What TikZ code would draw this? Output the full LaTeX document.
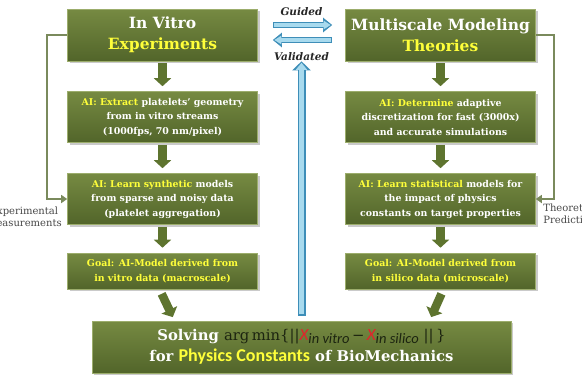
\documentclass[tikz,border=0pt]{standalone}
\usepackage{fontspec}
\setmainfont{DejaVu Serif}
\newfontfamily\calibfont{Carlito}
\usepackage{tikz}
\usetikzlibrary{positioning,arrows.meta,calc,shadows}

\definecolor{boxtop}{HTML}{768A42}
\definecolor{boxbot}{HTML}{52652A}
\definecolor{boxedge}{HTML}{9CAD6C}
\definecolor{hilite}{HTML}{FFFF3A}
\definecolor{gstepc}{HTML}{5E742F}
\definecolor{fbline}{HTML}{7A8A5C}
\definecolor{bluefill}{HTML}{A8DAEE}
\definecolor{blueedge}{HTML}{3E8EB8}
\definecolor{mathdark}{HTML}{1C2410}
\definecolor{xred}{HTML}{E3222B}

\newcommand{\hl}[1]{\textcolor{hilite}{#1}}
\newcommand{\subtxt}[1]{\raisebox{-2.5pt}{\calibfont\itshape\mdseries\fontsize{14.5}{14.5}\selectfont #1}}
\newcommand{\redx}{{\calibfont\itshape\mdseries\fontsize{17}{17}\selectfont\color{xred}X}}

\begin{document}
\begin{tikzpicture}[
  x=1pt, y=1pt,
  node distance=82pt and 278pt, % 竖直和水平方向的距离
  on grid,
  align=center,
  >={Stealth},
  box/.style={draw=boxedge, line width=0.6pt, top color=boxtop, bottom color=boxbot,
    minimum width=190pt, inner sep=2pt, text=white,
    drop shadow={fill=black!60, opacity=0.35, shadow xshift=2pt, shadow yshift=-2pt}},
  titlebox/.style={box, minimum height=52pt, font=\bfseries\fontsize{15.5}{21}\selectfont},
  aibox/.style={box, minimum height=51pt, font=\bfseries\fontsize{9.4}{14.5}\selectfont},
  goalbox/.style={box, minimum height=36pt, text=hilite, font=\bfseries\fontsize{9.4}{14.5}\selectfont},
  gstep/.style={draw=gstepc, line width=8.5pt, -{Triangle[width=17pt,length=8pt]},
    shorten <=2pt, shorten >=5pt},
  fback/.style={draw=fbline, line width=2pt, -{Triangle[width=8pt,length=6pt]}},
  blueout/.style={draw=blueedge, line width=#1, -{Triangle[width=2*#1+2pt,length=9pt]}},
  bluein/.style={draw=bluefill, line width=#1, -{Triangle[width=2*#1+1pt,length=7pt]}},
  side/.style={font=\fontsize{10}{12.5}\selectfont, text=black!72},
  tag/.style={font=\bfseries\itshape\fontsize{10.5}{12}\selectfont, text=black!85}
]
\useasboundingbox (0,0) rectangle (582,-376);

% 左列
\node (L1) [titlebox] at (162.5,-35) {In Vitro\\\hl{Experiments}};
\node (L2) [aibox, below=of L1] {\hl{AI: Extract} platelets’ geometry\\from in vitro streams\\(1000fps, 70 nm/pixel)};
\node (L3) [aibox, below=of L2] {\hl{AI: Learn synthetic} models\\from sparse and noisy data\\(platelet aggregation)};
\node (L4) [goalbox, below=72pt of L3] {Goal: AI-Model derived from\\in vitro data (macroscale)};

% 右列
\node (R1) [titlebox, right=of L1] {Multiscale Modeling\\\hl{Theories}};
\node (R2) [aibox, below=of R1] {\hl{AI: Determine} adaptive\\discretization for fast (3000x)\\and accurate simulations};
\node (R3) [aibox, below=of R2] {\hl{AI: Learn statistical} models for\\the impact of physics\\constants on target properties};
\node (R4) [goalbox, below=72pt of R3] {Goal: AI-Model derived from\\in silico data (microscale)};

% 底部
\node (solve) [box, minimum width=419pt, minimum height=52pt, font=\bfseries\fontsize{14.8}{21}\selectfont]
  at ($(L4)!0.5!(R4)+(0,-76)$)
  {Solving {\mdseries\color{mathdark}arg\,min\{||}\redx{\color{mathdark}\subtxt{in vitro}\,{\mdseries −}\,}\redx{\color{mathdark}\subtxt{in silico}\,{\mdseries\,||\,\}}}\\
  for \hl{\calibfont\fontsize{18}{21}\selectfont Physics Constants} of BioMechanics};

% 中间
\coordinate (vtop) at ($(L1.south)!0.5!(R1.south)$);
\node (guided) [tag] at ($(vtop)+(0,50)$) {Guided};
\node (validated) [tag] at ($(vtop)+(0,5)$) {Validated};

% 绿色箭头
\draw[gstep] (L1) -- (L2);
\draw[gstep] (L2) -- (L3);
\draw[gstep] (L3) -- (L4);
\draw[gstep] (R1) -- (R2);
\draw[gstep] (R2) -- (R3);
\draw[gstep] (R3) -- (R4);
\draw[gstep, shorten <=5pt, shorten >=4pt] ([xshift=-3pt]L4.south) -- ([xshift=-127pt]solve.north);
\draw[gstep, shorten <=5pt, shorten >=4pt] ([xshift=3pt]R4.south) -- ([xshift=128pt]solve.north);

% 蓝色箭头
\draw[blueout=8pt, shorten <=5pt] (solve.north) -- (vtop);
\draw[bluein=5pt, shorten <=6.5pt, shorten >=1.5pt] (solve.north) -- (vtop);
\draw[blueout=6pt, shorten <=15pt, shorten >=13pt] ([yshift=10pt]L1.east) -- ([yshift=10pt]R1.west);
\draw[bluein=3.6pt, shorten <=16pt, shorten >=14.5pt] ([yshift=10pt]L1.east) -- ([yshift=10pt]R1.west);
\draw[blueout=6pt, shorten <=13pt, shorten >=15pt] ([yshift=-5pt]R1.west) -- ([yshift=-5pt]L1.east);
\draw[bluein=3.6pt, shorten <=14pt, shorten >=16.5pt] ([yshift=-5pt]R1.west) -- ([yshift=-5pt]L1.east);

% 反馈
\draw[fback] (L1.west) -- ++(-20,0) |- (L3.west);
\draw[fback] (R1.east) -- ++(18,0) |- (R3.east);
\node (expm) [side, anchor=north east, align=center] at ([xshift=-2pt,yshift=-4pt]L3.west) {Experimental\\Measurements};
\node (theo) [side, anchor=north west, align=left] at ([xshift=4pt,yshift=-1pt]R3.east) {Theoretical\\Predictions};
\end{tikzpicture}
\end{document}
